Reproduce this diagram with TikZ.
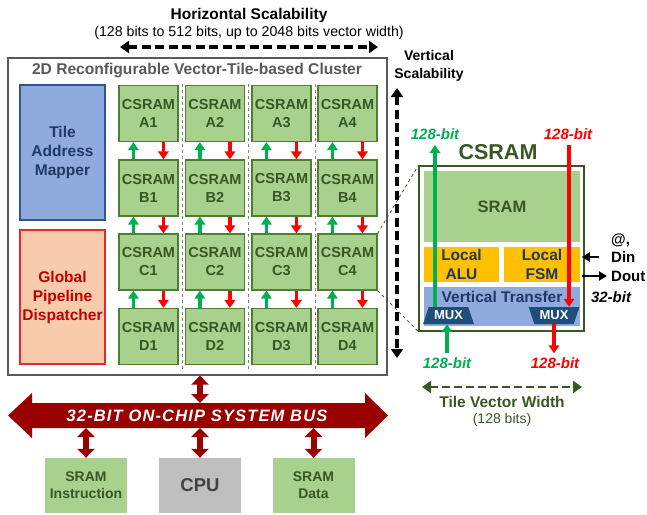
\documentclass[tikz,border=0pt]{standalone}
\usepackage{fontspec}
\setmainfont{Liberation Sans}
\usetikzlibrary{arrows.meta,shapes.geometric}
\definecolor{tilefill}{HTML}{A9D18E}
\definecolor{tileborder}{HTML}{507E32}
\definecolor{dgreen}{HTML}{385723}
\definecolor{bluefill}{HTML}{8FAADC}
\definecolor{blueborder}{HTML}{2F5597}
\definecolor{navy}{HTML}{1F3864}
\definecolor{peach}{HTML}{F8CBAD}
\definecolor{redborder}{HTML}{E8282B}
\definecolor{dred}{HTML}{C00000}
\definecolor{orangef}{HTML}{FFC000}
\definecolor{muxblue}{HTML}{1F4E79}
\definecolor{busred}{HTML}{990000}
\definecolor{cpugray}{HTML}{BFBFBF}
\definecolor{cputext}{HTML}{404040}
\definecolor{titlegray}{HTML}{595959}
\definecolor{upgreen}{HTML}{00B050}
\definecolor{downred}{HTML}{FF0000}
\begin{document}
\begin{tikzpicture}[x=1pt,y=-1pt,
  tile/.style={draw=tileborder, fill=tilefill, line width=1.2pt, minimum width=59pt, minimum height=56pt, inner sep=0pt, align=center, text=dgreen, font=\bfseries\fontsize{14.5}{18}\selectfont},
  upar/.style={upgreen, line width=3.3pt, -{Triangle[width=10.5pt,length=8pt]}},
  downar/.style={downred, line width=3.3pt, -{Triangle[width=10.5pt,length=8pt]}},
  sepline/.style={gray, dashed, line width=0.8pt},
  dasharr/.style={black, line width=3.6pt, dash pattern=on 9pt off 4.5pt, {Triangle[width=12pt,length=9pt]}-{Triangle[width=12pt,length=9pt]}},
  bigbox/.style={minimum width=85pt, inner sep=0pt, align=center, line width=1.2pt, font=\bfseries\fontsize{15.5}{19}\selectfont},
  part/.style={draw=white, line width=1.5pt, inner sep=0pt, align=center, font=\bfseries\fontsize{15.5}{19}\selectfont},
  mux/.style={trapezium, trapezium left angle=65, trapezium right angle=65, trapezium stretches=true, minimum width=51pt, minimum height=17pt, inner sep=0pt, fill=muxblue, text=white, font=\bfseries\fontsize{13}{13}\selectfont},
  bitlbl/.style={font=\bfseries\itshape\fontsize{15}{16}\selectfont, inner sep=0pt},
  smallar/.style={black, line width=2.2pt, -{Triangle[width=9pt,length=8pt]}},
  busconn/.style={busred, line width=6pt, {Triangle[width=17pt,length=9pt]}-{Triangle[width=17pt,length=9pt]}},
  botbox/.style={minimum width=82pt, minimum height=55pt, inner sep=0pt, align=center},
]
\useasboundingbox (0,0) rectangle (647,514);

% titles
\node[font=\bfseries\fontsize{15.5}{17}\selectfont] (htitle) at (249,15) {Horizontal Scalability};
\node[font=\fontsize{14.2}{16}\selectfont] (hsub) at (249,33) {(128 bits to 512 bits, up to 2048 bits vector width)};
\coordinate (hL) at (120,47); \coordinate (hR) at (378,47);
\draw[dasharr] (hL) -- (hR);

% cluster
\node[draw=titlegray, line width=1.2pt, minimum width=379pt, minimum height=317pt, inner sep=0pt] (cluster) at (197.5,216.5) {};
\node[text=titlegray, font=\bfseries\fontsize{15.6}{17}\selectfont] (ctitle) at (197,70) {2D Reconfigurable Vector-Tile-based Cluster};

\node[bigbox, draw=blueborder, fill=bluefill, text=navy, minimum height=135pt] (tam) at (62.5,152.5) {Tile\\Address\\Mapper};
\node[bigbox, draw=redborder, fill=peach, text=dred, minimum height=134pt] (gpd) at (62.5,297) {Global\\Pipeline\\Dispatcher};

\foreach \x in {182,248.5,315} \draw[sepline] (\x,84) -- (\x,372);

\foreach \r/\y in {A/113.5,B/188,C/262,D/336.5}
  \foreach \c/\x in {1/148.5,2/215,3/281.5,4/347.5}
    \node[tile] (\r\c) at (\x,\y) {CSRAM\\\r\c};

\foreach \u/\l in {A/B,B/C,C/D}
  \foreach \c in {1,2,3,4} {
    \draw[upar] ([xshift=15pt]\l\c.north west) -- ([xshift=15pt]\u\c.south west);
    \draw[downar] ([xshift=45pt]\u\c.south west) -- ([xshift=45pt]\l\c.north west);
  }

% vertical scalability
\node[align=center, font=\bfseries\fontsize{14}{18}\selectfont] (vtitle) at (429,66) {Vertical\\Scalability};
\coordinate (vT) at (397,88); \coordinate (vB) at (397,358);
\draw[dasharr] (vT) -- (vB);

% CSRAM detail
\node[draw=dgreen, line width=1.2pt, fill=white, minimum width=165pt, minimum height=165pt, inner sep=0pt] (detail) at (501.5,248.5) {};
\draw[dgreen, dashed, line width=0.8pt] (C4.north east) -- (detail.north west);
\draw[dgreen, dashed, line width=0.8pt] (C4.south east) -- (detail.south west);
\node[text=dgreen, font=\bfseries\fontsize{21.5}{24}\selectfont] (dtitle) at (498,152) {CSRAM};
\node[part, fill=tilefill, text=dgreen, minimum width=158pt, minimum height=73pt, font=\bfseries\fontsize{16.5}{19}\selectfont] (sram) at (502,206.5) {SRAM};
\node[part, fill=orangef, text=navy, minimum width=77pt, minimum height=37pt] (alu) at (461.5,264.5) {Local\\ALU};
\node[part, fill=orangef, text=navy, minimum width=78pt, minimum height=37pt] (fsm) at (542,264.5) {Local\\FSM};
\node[part, fill=bluefill, minimum width=158pt, minimum height=41pt] (vt) at (502,306.5) {};
\node[text=navy, font=\bfseries\fontsize{15.5}{17}\selectfont, inner sep=0pt] (vtl) at (502,297) {Vertical Transfer};
\node[mux] (muxL) at (448.5,315.5) {MUX};
\node[mux, shape border rotate=180] (muxR) at (554,315.5) {MUX};

\node[bitlbl, text=upgreen] (gtop) at (435,134) {128-bit};
\node[bitlbl, text=downred] (rtop) at (568,134) {128-bit};
\node[bitlbl, text=upgreen] (gbot) at (447,363) {128-bit};
\node[bitlbl, text=downred] (rbot) at (555,363) {128-bit};
\coordinate (gtopT) at (435,145);
\draw[upar] (muxL.north -| gtopT) -- (gtopT);
\coordinate (rtopS) at (569,145);
\draw[downar] (rtopS) -- (rtopS |- muxR.north);
\draw[upar] ([yshift=4pt]gbot.north) -- (gbot.north |- muxL.south);
\draw[downar] (muxR.south) -- ([yshift=4pt]muxR.south |- rbot.north);

\node[anchor=west, font=\bfseries\fontsize{15}{16}\selectfont, inner sep=0pt] (at) at (611,240) {@,};
\node[anchor=west, font=\bfseries\fontsize{15}{16}\selectfont, inner sep=0pt] (din) at (611,257) {Din};
\node[anchor=west, font=\bfseries\fontsize{15}{16}\selectfont, inner sep=0pt] (dout) at (611,276) {Dout};
\node[bitlbl, text=black] (b32) at (611,297) {32-bit};
\coordinate (dinS) at (599,257);
\draw[smallar] (dinS) -- (dinS -| fsm.east);
\coordinate (doutE) at (607,276);
\draw[smallar] (doutE -| fsm.east) -- (doutE);

% tile vector width
\coordinate (tvL) at (422,387); \coordinate (tvR) at (582,387);
\draw[dasharr, dgreen, line width=2.8pt, dash pattern=on 8pt off 4pt] (tvL) -- (tvR);
\node[text=dgreen, font=\bfseries\fontsize{15.5}{17}\selectfont] (tvw) at (502,402) {Tile Vector Width};
\node[text=dgreen, font=\fontsize{14}{16}\selectfont] (tvs) at (502,420) {(128 bits)};

% bus
\fill[busred] (8,415.5) -- (32,393) -- (32,403) -- (365,403) -- (365,393) -- (388,415.5) -- (365,438) -- (365,428) -- (32,428) -- (32,438) -- cycle;
\node[text=white, font=\bfseries\itshape\fontsize{16.5}{18}\selectfont\addfontfeature{LetterSpace=7}] (bus) at (197,416) {32-BIT ON-CHIP SYSTEM BUS};
\coordinate (busT) at (198,403); \coordinate (busB) at (198,428);

\node[botbox, fill=tilefill, text=dgreen, font=\bfseries\fontsize{14}{17}\selectfont] (sinst) at (86,485.5) {SRAM\\Instruction};
\node[botbox, fill=cpugray, text=cputext, font=\bfseries\fontsize{18.5}{20}\selectfont] (cpu) at (200,485.5) {CPU};
\node[botbox, fill=tilefill, text=dgreen, font=\bfseries\fontsize{14}{17}\selectfont] (sdata) at (313.5,485.5) {SRAM\\Data};

\draw[busconn] (cluster.south -| cpu.north) -- (busT -| cpu.north);
\draw[busconn] (busB -| cpu.north) -- (cpu.north);
\draw[busconn] (busB -| sinst.north) -- (sinst.north);
\draw[busconn] (busB -| sdata.north) -- (sdata.north);
\end{tikzpicture}
\end{document}
